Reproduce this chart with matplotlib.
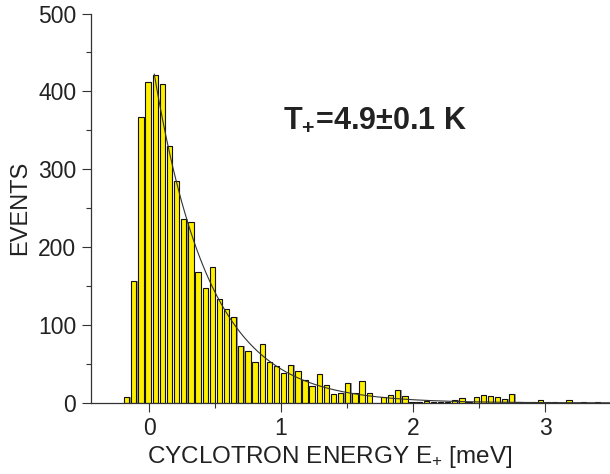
import numpy as np
import matplotlib
matplotlib.use("Agg")
import matplotlib.pyplot as plt

plt.rcParams['font.family'] = ['Liberation Sans', 'DejaVu Sans']
plt.rcParams['mathtext.fontset'] = 'custom'
plt.rcParams['mathtext.rm'] = 'Liberation Sans'
plt.rcParams['mathtext.it'] = 'Liberation Sans'
plt.rcParams['mathtext.bf'] = 'Liberation Sans:bold'

# histogram of cyclotron energies (bin centres in meV, counts)
bin_start = -0.169
bin_step = 0.054
counts = [7, 156, 367, 412, 421, 409, 330, 285, 236, 232,
          168, 147, 175, 133, 121, 110, 73, 67, 53, 75,
          53, 48, 38, 49, 41, 29, 22, 37, 23, 12,
          13, 26, 13, 28, 13, 0, 7, 10, 16, 9,
          1, 1, 3, 1, 1, 1, 4, 6, 1, 8,
          10, 9, 8, 5, 12, 1, 0, 1, 4, 1,
          1, 0, 4, 0, 1, 0, 1, 0]
energies = bin_start + bin_step * np.arange(len(counts))

# Boltzmann fit  N = A exp(-E / kT)
fit_A = 464.0
fit_T = 4.9          # K
k_B = 0.08617        # meV / K
fit_E = np.linspace(0.04, 3.5, 300)
fit_N = fit_A * np.exp(-fit_E / (k_B * fit_T))

fig = plt.figure(figsize=(6.1, 4.74), dpi=100)
ax = fig.add_axes([0.149, 0.15, 0.851, 0.8215])

w = 0.040
ax.bar(energies + 0.009, counts, width=w, color='#9a9a9a', edgecolor='none', zorder=1)
ax.bar(energies, counts, width=w, color='#FFF000', edgecolor='#111111', linewidth=0.8, zorder=2)
ax.plot(fit_E, fit_N, color='#333333', lw=0.8, zorder=3)

ax.set_xlim(-0.44, 3.49)
ax.set_ylim(0, 500)
ax.set_xticks([0, 1, 2, 3])
ax.set_xticks([0.5, 1.5, 2.5], minor=True)
ax.set_yticks([0, 100, 200, 300, 400, 500])
ax.set_yticks([50, 150, 250, 350, 450], minor=True)

for s in ['top', 'right']:
    ax.spines[s].set_visible(False)
for s in ['left', 'bottom']:
    ax.spines[s].set_color('#333333')
    ax.spines[s].set_linewidth(0.9)

ax.tick_params(which='major', length=6.5, width=0.8, color='#333333',
               labelsize=16.5, labelcolor='#222222', pad=4)
ax.tick_params(which='minor', length=3.3, width=0.8, color='#333333')

ax.set_xlabel('CYCLOTRON ENERGY E$_{+}$ [meV]', fontsize=17.5, color='#222222')
ax.xaxis.set_label_coords(0.46, -0.105)
ax.set_ylabel('EVENTS', fontsize=17, color='#222222', labelpad=5)

ax.text(0.37, 0.706, r'T$_{\mathbf{+}}$=4.9±0.1 K', transform=ax.transAxes, fontsize=22,
        fontweight='bold', color='#222222', va='baseline')

fig.savefig('out.png', dpi=100)
